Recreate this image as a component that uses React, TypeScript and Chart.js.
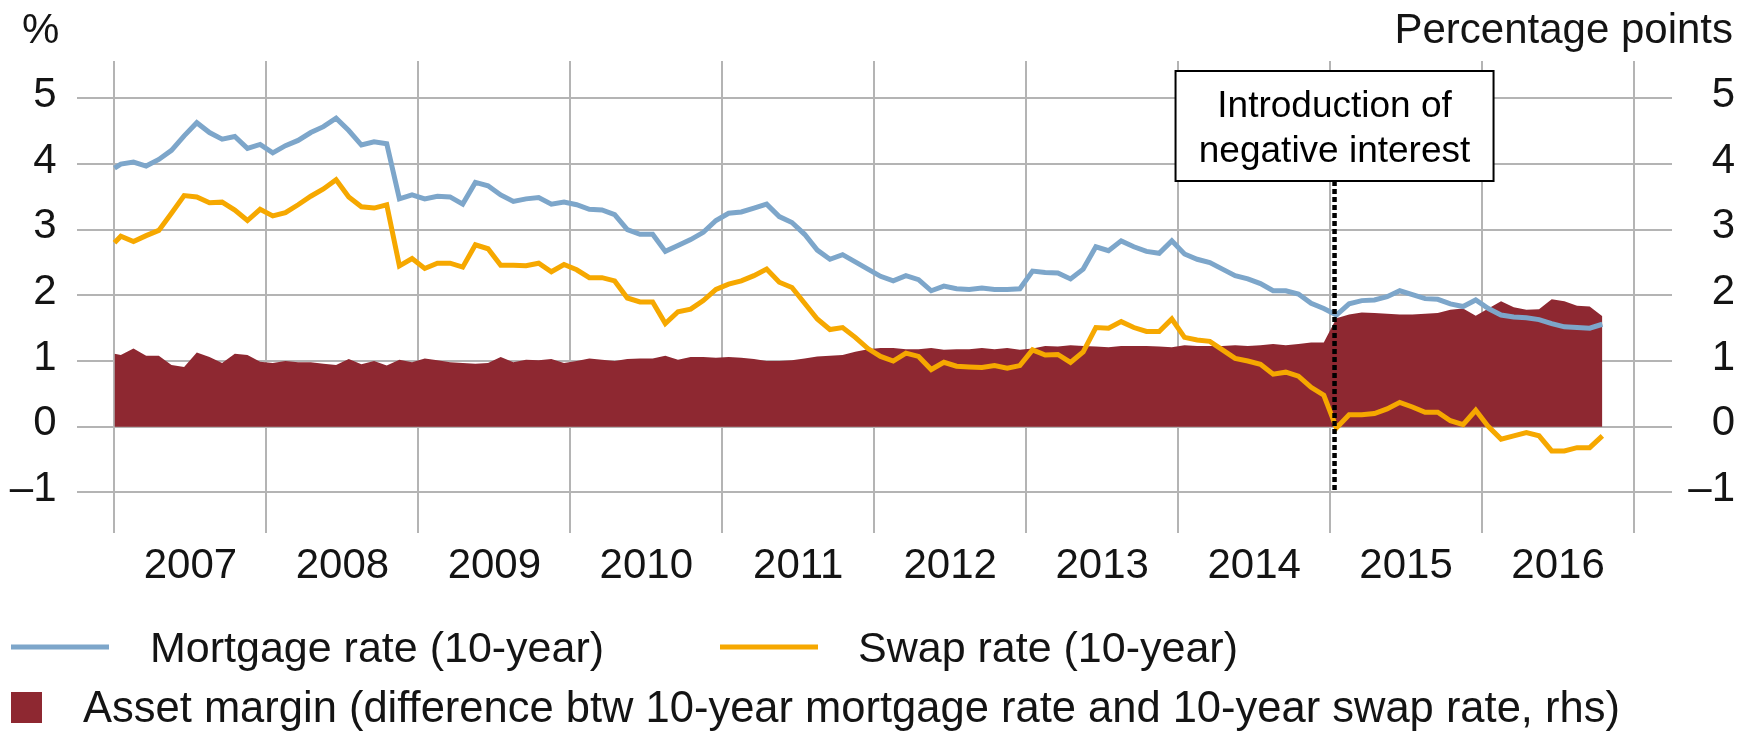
import React, { useEffect, useRef } from 'react';
import { Chart, registerables } from 'chart.js';

Chart.register(...registerables);

// ---------- data ----------
const YEARS = ['2007', '2008', '2009', '2010', '2011', '2012', '2013', '2014', '2015', '2016'];
const Y_TICKS = [-1, 0, 1, 2, 3, 4, 5];

// first value = start of series (Jan 2007), then monthly observations Jan 2007 – Oct 2016
const MORTGAGE = [
  3.94,
  4.0, 4.03, 3.97, 4.07, 4.21, 4.43, 4.63, 4.48, 4.38, 4.42, 4.24, 4.3,
  4.17, 4.28, 4.36, 4.48, 4.57, 4.7, 4.51, 4.29, 4.34, 4.31, 3.47, 3.53,
  3.47, 3.51, 3.5, 3.39, 3.72, 3.67, 3.53, 3.43, 3.47, 3.49, 3.39, 3.42,
  3.38, 3.31, 3.3, 3.23, 3.0, 2.93, 2.93, 2.67, 2.76, 2.85, 2.96, 3.14,
  3.25, 3.27, 3.33, 3.39, 3.2, 3.11, 2.93, 2.69, 2.55, 2.62, 2.51, 2.4,
  2.29, 2.22, 2.3, 2.24, 2.07, 2.14, 2.1, 2.09, 2.11, 2.09, 2.09, 2.1,
  2.37, 2.35, 2.34, 2.25, 2.4, 2.74, 2.68, 2.83, 2.74, 2.67, 2.64, 2.83,
  2.63, 2.55, 2.5, 2.4, 2.3, 2.25, 2.18, 2.07, 2.07, 2.02, 1.88, 1.8,
  1.7, 1.87, 1.92, 1.93, 1.98, 2.07, 2.01, 1.95, 1.94, 1.87, 1.83, 1.93,
  1.8, 1.7, 1.67, 1.66, 1.63, 1.57, 1.52, 1.51, 1.5, 1.56,
];

const SWAP = [
  2.8,
  2.9, 2.82, 2.91, 2.99, 3.25, 3.52, 3.5, 3.41, 3.42, 3.3, 3.14, 3.31,
  3.21, 3.26, 3.38, 3.51, 3.62, 3.76, 3.5, 3.35, 3.33, 3.38, 2.45, 2.56,
  2.41, 2.49, 2.49, 2.43, 2.77, 2.71, 2.46, 2.46, 2.45, 2.49, 2.36, 2.47,
  2.39, 2.27, 2.27, 2.22, 1.96, 1.9, 1.9, 1.57, 1.75, 1.79, 1.92, 2.09,
  2.17, 2.22, 2.3, 2.4, 2.2, 2.12, 1.88, 1.64, 1.48, 1.51, 1.36, 1.19,
  1.07, 1.0, 1.12, 1.07, 0.87, 0.98, 0.92, 0.91, 0.9, 0.93, 0.89, 0.93,
  1.17, 1.09, 1.1, 0.98, 1.14, 1.51, 1.5, 1.6, 1.51, 1.45, 1.45, 1.64,
  1.36, 1.32, 1.3, 1.17, 1.04, 1.0, 0.95, 0.8, 0.83, 0.77, 0.6, 0.48,
  -0.02, 0.18, 0.18, 0.2, 0.27, 0.37, 0.3, 0.22, 0.22, 0.09, 0.03, 0.25,
  0.0, -0.19, -0.14, -0.09, -0.14, -0.37, -0.37, -0.32, -0.32, -0.14,
];

const MARGIN = [
  1.11,
  1.09, 1.19, 1.08, 1.08, 0.94, 0.91, 1.13, 1.06, 0.97, 1.11, 1.09, 0.99,
  0.97, 1.0, 0.98, 0.98, 0.96, 0.94, 1.03, 0.95, 1.0, 0.93, 1.02, 0.98,
  1.04, 1.01, 0.98, 0.97, 0.96, 0.97, 1.06, 0.98, 1.02, 1.01, 1.03, 0.97,
  1.0, 1.04, 1.02, 1.0, 1.03, 1.04, 1.04, 1.08, 1.02, 1.06, 1.06, 1.05,
  1.06, 1.05, 1.03, 1.0, 1.0, 1.01, 1.04, 1.07, 1.08, 1.09, 1.14, 1.18,
  1.2, 1.2, 1.18, 1.18, 1.2, 1.17, 1.18, 1.18, 1.2, 1.18, 1.2, 1.17,
  1.19, 1.23, 1.22, 1.24, 1.23, 1.22, 1.21, 1.23, 1.23, 1.23, 1.22, 1.21,
  1.24, 1.23, 1.23, 1.23, 1.24, 1.23, 1.24, 1.26, 1.24, 1.26, 1.28, 1.28,
  1.65, 1.71, 1.74, 1.73, 1.72, 1.71, 1.71, 1.72, 1.73, 1.78, 1.8, 1.69,
  1.8, 1.91, 1.82, 1.78, 1.79, 1.94, 1.91, 1.84, 1.83, 1.68,
];

const SERIES_LABELS = [
  'Mortgage rate (10-year)',
  'Swap rate (10-year)',
  'Asset margin (difference btw 10-year mortgage rate and 10-year swap rate, rhs)',
];
const LEFT_TITLE = '%';
const RIGHT_TITLE = 'Percentage points';
const EVENT_LABEL = ['Introduction of', 'negative interest'];
const EVENT_MONTH = 96.35; // months since Jan 2007 (January 2015)

// ---------- styles ----------
const FONT = '"Liberation Sans", Arial, "Helvetica Neue", sans-serif';
const BLUE = '#7da6ca';
const ORANGE = '#f6a800';
const RED = '#8e2831';
const GRID = '#b4b4b4';
const TEXT = '#141414';

// months since Jan 2007: start point, then monthly mid-points
const xAt = (k: number) => (k === 0 ? 0 : k - 0.5);
const toPoints = (arr: number[]) => arr.map((v, k) => ({ x: xAt(k), y: v }));
const fmt = (v: number) => (v < 0 ? '\u2013' + Math.abs(v) : String(v));

const overlayPlugin = {
  id: 'overlay',
  afterDatasetsDraw(chart: any) {
    const { ctx, scales } = chart;
    const px = scales.x.getPixelForValue(EVENT_MONTH);
    const boxTop = 71;
    const boxBottom = 181;
    const boxW = 318;
    ctx.save();
    // dotted vertical line
    ctx.strokeStyle = '#000';
    ctx.lineWidth = 4.5;
    ctx.setLineDash([5, 3]);
    ctx.beginPath();
    ctx.moveTo(px, boxBottom);
    ctx.lineTo(px, scales.y.getPixelForValue(-1));
    ctx.stroke();
    ctx.setLineDash([]);
    // annotation box
    ctx.fillStyle = '#fff';
    ctx.fillRect(px - boxW / 2, boxTop, boxW, boxBottom - boxTop);
    ctx.lineWidth = 2;
    ctx.strokeStyle = '#000';
    ctx.strokeRect(px - boxW / 2, boxTop, boxW, boxBottom - boxTop);
    ctx.fillStyle = '#000';
    ctx.font = '37px ' + FONT;
    ctx.textAlign = 'center';
    ctx.textBaseline = 'alphabetic';
    ctx.fillText(EVENT_LABEL[0], px, 117);
    ctx.fillText(EVENT_LABEL[1], px, 162);
    ctx.restore();
  },
  afterDraw(chart: any) {
    const { ctx } = chart;
    ctx.save();
    ctx.fillStyle = TEXT;
    ctx.textBaseline = 'alphabetic';
    ctx.font = '42px ' + FONT;
    ctx.textAlign = 'left';
    ctx.fillText(LEFT_TITLE, 22, 43);
    ctx.textAlign = 'right';
    ctx.fillText(RIGHT_TITLE, 1733, 43);

    // legend
    ctx.textAlign = 'left';
    ctx.lineWidth = 5;
    ctx.strokeStyle = BLUE;
    ctx.beginPath();
    ctx.moveTo(11, 647);
    ctx.lineTo(109, 647);
    ctx.stroke();
    ctx.font = '43px ' + FONT;
    ctx.fillText(SERIES_LABELS[0], 150, 662);
    ctx.strokeStyle = ORANGE;
    ctx.beginPath();
    ctx.moveTo(720, 647);
    ctx.lineTo(818, 647);
    ctx.stroke();
    ctx.fillText(SERIES_LABELS[1], 858, 662);
    ctx.fillStyle = RED;
    ctx.fillRect(11, 692, 31, 31);
    ctx.fillStyle = TEXT;
    ctx.font = '43.5px ' + FONT;
    ctx.fillText(SERIES_LABELS[2], 83, 722);
    ctx.restore();
  },
};

export default function App() {
  const ref = useRef<HTMLCanvasElement>(null);

  useEffect(() => {
    const canvas = ref.current;
    if (!canvas) return;
    const yTicks = (scale: any) => {
      scale.ticks = Y_TICKS.map((v) => ({ value: v }));
    };
    const chart = new Chart(canvas, {
      type: 'line',
      data: {
        datasets: [
          {
            label: SERIES_LABELS[0],
            data: toPoints(MORTGAGE),
            borderColor: BLUE,
            borderWidth: 5,
            pointRadius: 0,
            tension: 0,
            fill: false,
            yAxisID: 'y',
            order: 1,
          },
          {
            label: SERIES_LABELS[1],
            data: toPoints(SWAP),
            borderColor: ORANGE,
            borderWidth: 5,
            pointRadius: 0,
            tension: 0,
            fill: false,
            yAxisID: 'y',
            order: 0,
          },
          {
            label: SERIES_LABELS[2],
            data: toPoints(MARGIN),
            borderWidth: 0,
            borderColor: RED,
            backgroundColor: RED,
            pointRadius: 0,
            tension: 0,
            fill: 'origin',
            yAxisID: 'y1',
            order: 2,
          },
        ],
      },
      options: {
        animation: false,
        responsive: false,
        devicePixelRatio: 1,
        layout: { padding: { top: 61, left: 0, right: 15, bottom: 0 } },
        plugins: { legend: { display: false }, tooltip: { enabled: false }, title: { display: false } },
        scales: {
          x: {
            type: 'linear',
            min: -3,
            max: 123,
            afterBuildTicks: (scale: any) => {
              const t = [];
              for (let v = 0; v <= YEARS.length * 12; v += 6) t.push({ value: v });
              scale.ticks = t;
            },
            afterFit: (scale: any) => {
              scale.height = 198;
            },
            ticks: {
              autoSkip: false,
              maxRotation: 0,
              minRotation: 0,
              padding: 8,
              color: TEXT,
              font: { family: FONT, size: 42 },
              callback: (value: any) => {
                const v = Number(value);
                return v % 12 === 6 ? YEARS[(v - 6) / 12] : '';
              },
            },
            grid: {
              drawTicks: false,
              lineWidth: 2,
              color: (ctx: any) => (ctx.tick && ctx.tick.value % 12 === 0 ? GRID : 'rgba(0,0,0,0)'),
            },
            border: { display: false },
          },
          y: {
            type: 'linear',
            position: 'left',
            min: -1.62,
            max: 5.57,
            afterBuildTicks: yTicks,
            afterFit: (scale: any) => {
              scale.width = 76.5;
            },
            ticks: {
              padding: 20,
              labelOffset: -3,
              color: TEXT,
              font: { family: FONT, size: 42 },
              callback: (v: any) => fmt(Number(v)),
            },
            grid: { drawTicks: false, lineWidth: 2, color: GRID },
            border: { display: false },
          },
          y1: {
            type: 'linear',
            position: 'right',
            min: -1.62,
            max: 5.57,
            afterBuildTicks: yTicks,
            afterFit: (scale: any) => {
              scale.width = 63;
            },
            ticks: {
              crossAlign: 'far',
              labelOffset: -3,
              color: TEXT,
              font: { family: FONT, size: 42 },
              callback: (v: any) => fmt(Number(v)),
            },
            grid: { display: false, drawTicks: false },
            border: { display: false },
          },
        },
      } as any,
      plugins: [overlayPlugin],
    });
    return () => chart.destroy();
  }, []);

  return (
    <div style={{ position: 'absolute', left: 0, top: 0, width: 1750, height: 731, background: '#fff' }}>
      <canvas ref={ref} width={1750} height={731} style={{ display: 'block', width: 1750, height: 731 }} />
    </div>
  );
}
